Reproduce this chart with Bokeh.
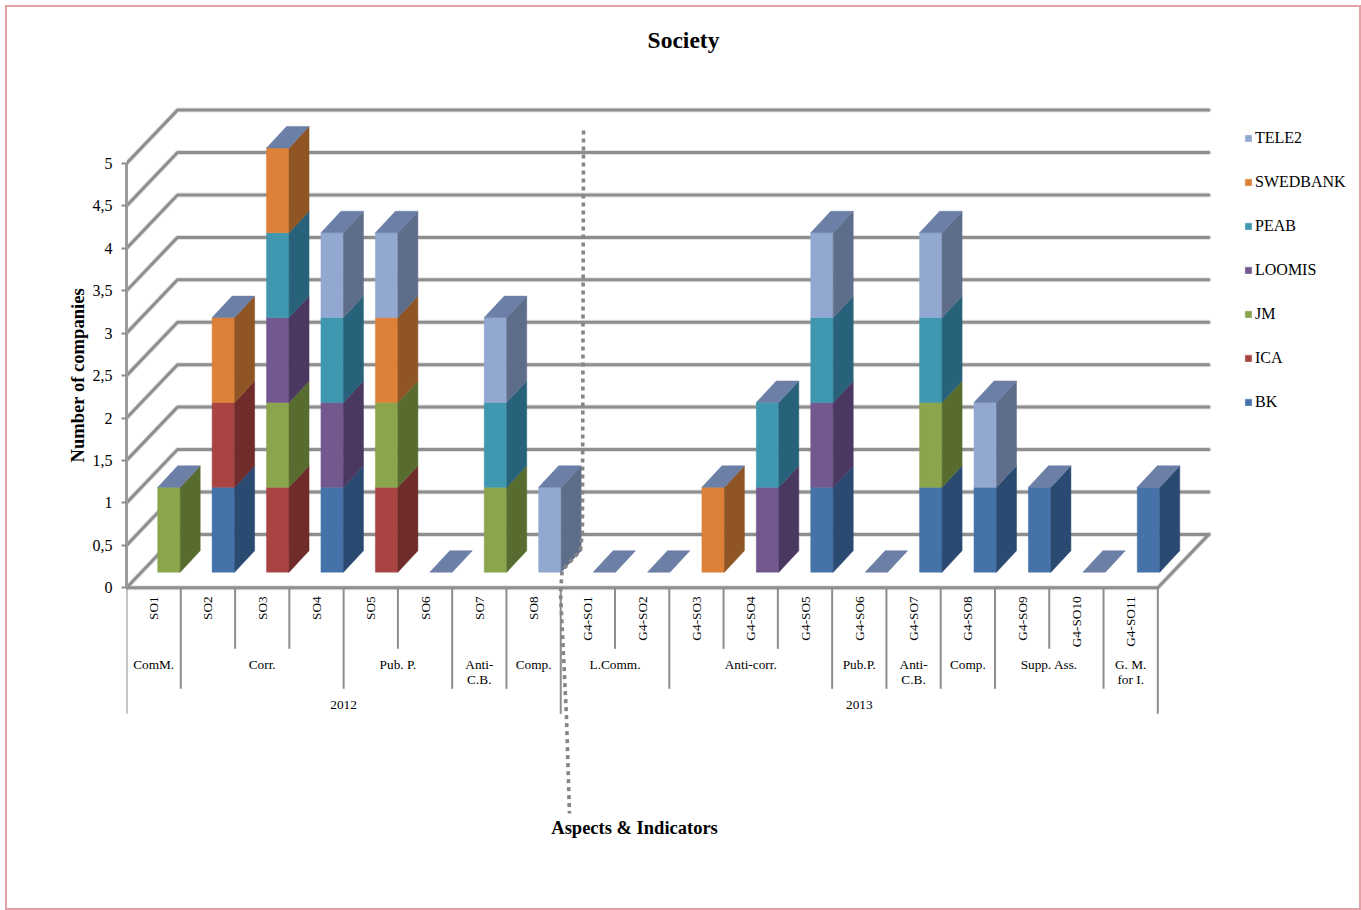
from bokeh.plotting import figure
from bokeh.models import Range1d, FixedTicker, Legend, LegendItem, Title, InlineStyleSheet
from bokeh.core.properties import value
from bokeh.embed import file_html
from bokeh.resources import INLINE

# Indicators along the floor of the chart
indicators = ["SO1", "SO2", "SO3", "SO4", "SO5", "SO6", "SO7", "SO8",
              "G4-SO1", "G4-SO2", "G4-SO3", "G4-SO4", "G4-SO5", "G4-SO6",
              "G4-SO7", "G4-SO8", "G4-SO9", "G4-SO10", "G4-SO11"]

# Number of companies reporting each indicator (stacked bottom to top)
BK       = [0, 1, 0, 1, 0, 0, 0, 0, 0, 0, 0, 0, 1, 0, 1, 1, 1, 0, 1]
ICA      = [0, 1, 1, 0, 1, 0, 0, 0, 0, 0, 0, 0, 0, 0, 0, 0, 0, 0, 0]
JM       = [1, 0, 1, 0, 1, 0, 1, 0, 0, 0, 0, 0, 0, 0, 1, 0, 0, 0, 0]
LOOMIS   = [0, 0, 1, 1, 0, 0, 0, 0, 0, 0, 0, 1, 1, 0, 0, 0, 0, 0, 0]
PEAB     = [0, 0, 1, 1, 0, 0, 1, 0, 0, 0, 0, 1, 1, 0, 1, 0, 0, 0, 0]
SWEDBANK = [0, 1, 1, 0, 1, 0, 0, 0, 0, 0, 1, 0, 0, 0, 0, 0, 0, 0, 0]
TELE2    = [0, 0, 0, 1, 1, 0, 1, 1, 0, 0, 0, 0, 1, 0, 1, 1, 0, 0, 0]

series = [("BK", BK, "#4472A9", "#2B4A72"),
          ("ICA", ICA, "#A84543", "#6F2C2B"),
          ("JM", JM, "#8AA54C", "#586C30"),
          ("LOOMIS", LOOMIS, "#72588F", "#4A3860"),
          ("PEAB", PEAB, "#3F97B0", "#28627A"),
          ("SWEDBANK", SWEDBANK, "#DD8139", "#8F5525"),
          ("TELE2", TELE2, "#92A8D0", "#5E6E8A")]
top_colour = "#6C7FA6"

# Aspect groups: label, first indicator slot, slot after the last one
aspects = [("ComM.", 0, 1), ("Corr.", 1, 4), ("Pub. P.", 4, 6), ("Anti-\nC.B.", 6, 7),
           ("Comp.", 7, 8), ("L.Comm.", 8, 10), ("Anti-corr.", 10, 13), ("Pub.P.", 13, 14),
           ("Anti-\nC.B.", 14, 15), ("Comp.", 15, 16), ("Supp. Ass.", 16, 18),
           ("G. M.\nfor I.", 18, 19)]
years = [("2012", 0, 8), ("2013", 8, 19)]

y_ticks = [0, 0.5, 1, 1.5, 2, 2.5, 3, 3.5, 4, 4.5, 5]

# Screen scale of the chart
PX_X = 54.28
PX_Y = 84.86
FRAME_W, FRAME_H = 1114, 780
Y_TOP = 517.3 / PX_Y

# Oblique projection, in chart units
WALL_DX, WALL_DY = 51 / PX_X, 53.4 / PX_Y
BAR_DX, BAR_DY = 20 / PX_X, 21.5 / PX_Y
BAR_W = 22.5 / PX_X
BAR_X0 = 31.2 / PX_X
BAR_PITCH = 54.42 / PX_X
BAR_BASE = 15.6 / PX_Y

FONT = "Liberation Serif"
GRID = "#8E8E8E"

# Thin rose frame around the whole page
page_border = InlineStyleSheet(css=""":host::after {
  content: ""; position: absolute; left: 5px; top: 5px; width: 1352px; height: 901px;
  border: 2px solid #E2A1A5; pointer-events: none; box-sizing: content-box;
}""")

n = len(indicators)
p = figure(width=1361, height=910, frame_width=FRAME_W, frame_height=FRAME_H,
           min_border_left=126, min_border_right=121, min_border_top=70, min_border_bottom=60,
           x_range=Range1d(0, FRAME_W / PX_X), y_range=Range1d(Y_TOP - FRAME_H / PX_Y, Y_TOP),
           x_axis_type=None, toolbar_location=None, output_backend="svg",
           title="Society", stylesheets=[page_border])
p.ygrid.visible = False
p.outline_line_color = None
p.title.align = "center"
p.title.text_font = FONT
p.title.text_font_size = "23.5px"
p.title.text_font_style = "bold"
p.title.text_color = "#000000"
p.title.standoff = 36

axis = p.yaxis[0]
axis.ticker = FixedTicker(ticks=y_ticks)
axis.bounds = (0, 5)
axis.major_label_overrides = {t: str(t).replace(".", ",") for t in y_ticks if t != int(t)}
axis.major_label_overrides.update({t: str(int(t)) for t in y_ticks if t == int(t)})
axis.minor_tick_line_color = None
axis.major_tick_in = 0
axis.major_tick_out = 5
axis.major_tick_line_color = GRID
axis.major_tick_line_width = 2
axis.axis_line_color = "#9C9C9C"
axis.axis_line_width = 3
axis.major_label_text_font = FONT
axis.major_label_text_font_size = "16px"
axis.major_label_text_color = "#000000"
axis.major_label_standoff = 9

# Value-axis title, centred on the 0-5 span of the axis
p.add_layout(Title(text="Number of companies", align="left", offset=388, standoff=3,
                   text_font=FONT, text_font_size="18.6px", text_font_style="bold",
                   text_color="#000000"), "left")

# Back wall, side wall and floor outline
wall_xs, wall_ys = [], []
for t in y_ticks:
    wall_xs.append([0, WALL_DX, n + WALL_DX])
    wall_ys.append([t, t + WALL_DY, t + WALL_DY])
wall_xs.append([0, n, n + WALL_DX])
wall_ys.append([0, 0, WALL_DY])
p.multi_line(wall_xs, wall_ys, line_color="#C8C8C8", line_width=5, line_alpha=0.5, line_cap="round")
p.multi_line(wall_xs, wall_ys, line_color=GRID, line_width=3, line_cap="round", line_join="round")

# Stacked columns: front face, side face, then one cap on each stack
cum = [0] * n
for name, vals, front, side in series:
    fx, fy, sx, sy = [], [], [], []
    for i, v in enumerate(vals):
        if v == 0:
            continue
        x0 = i * BAR_PITCH + BAR_X0
        x1 = x0 + BAR_W
        y0 = BAR_BASE + cum[i]
        y1 = y0 + v
        fx.append([x0, x1, x1, x0])
        fy.append([y0, y0, y1, y1])
        sx.append([x1, x1 + BAR_DX, x1 + BAR_DX, x1])
        sy.append([y0, y0 + BAR_DY, y1 + BAR_DY, y1])
        cum[i] += v
    series_front = p.patches(fx, fy, fill_color=front, line_color=front, line_width=0.5)
    p.patches(sx, sy, fill_color=side, line_color=side, line_width=0.5)
    series_front.name = name

tx, ty = [], []
for i, total in enumerate(cum):
    x0 = i * BAR_PITCH + BAR_X0
    y0 = BAR_BASE + total
    tx.append([x0, x0 + BAR_W, x0 + BAR_W + BAR_DX, x0 + BAR_DX])
    ty.append([y0, y0, y0 + BAR_DY, y0 + BAR_DY])
p.patches(tx, ty, fill_color=top_colour, line_color=top_colour, line_width=0.5)

# Separators of the three label levels under the floor
LEVEL1, LEVEL2, LEVEL3 = -61 / PX_Y, -101 / PX_Y, -126 / PX_Y
drops = {i: LEVEL1 for i in range(n + 1)}
for _, a, b in aspects:
    drops[a] = LEVEL2
    drops[b] = LEVEL2
for _, a, b in years:
    drops[a] = LEVEL3
    drops[b] = LEVEL3
p.segment(list(drops), [0] * len(drops), list(drops), list(drops.values()),
          line_color=GRID, line_width=2)

label_kw = dict(text_font=value(FONT), text_color="#000000", text_font_size="13.3px")
p.text([i + 0.5 for i in range(n)], [-8.5 / PX_Y] * n, text=indicators, angle=1.5708,
       text_align="right", text_baseline="middle", **label_kw)
p.text([(a + b) / 2 for _, a, b in aspects], [-69.2 / PX_Y] * len(aspects),
       text=[s for s, _, _ in aspects], text_align="center", text_baseline="top",
       text_line_height=1.0, **label_kw)
p.text([(a + b) / 2 for _, a, b in years], [-116.7 / PX_Y] * len(years),
       text=[s for s, _, _ in years], text_align="center", text_baseline="middle", **label_kw)

# Dotted divider between the two reporting years
divider_x = [8.42, 8.40, 8.364, 8.025, 7.996, 8.106, 8.161]
divider_y = [5.388, 0.675, 0.44, 0.204, -0.067, -1.528, -2.66]
p.line(divider_x, divider_y, line_color="#858585", line_width=3.6, line_dash="4 4")

p.text([9.36], [-2.825], text=["Aspects & Indicators"], text_font=value(FONT),
       text_font_size="18.5px", text_font_style="bold", text_color="#000000",
       text_align="center", text_baseline="middle")

# Legend to the right of the walls, top entry last in the stack
by_name = {r.name: r for r in p.renderers if r.name}
items = [LegendItem(label=s[0], renderers=[by_name[s[0]]]) for s in reversed(series)]
legend = Legend(items=items, location=(4, 438), padding=4, margin=0, spacing=24,
                label_height=20, glyph_width=8, glyph_height=8, label_standoff=3,
                label_text_font=FONT, label_text_font_size="16px", label_text_color="#000000",
                background_fill_alpha=0, border_line_color=None)
p.add_layout(legend, "right")

open("out.html", "w").write(file_html(p, INLINE))
